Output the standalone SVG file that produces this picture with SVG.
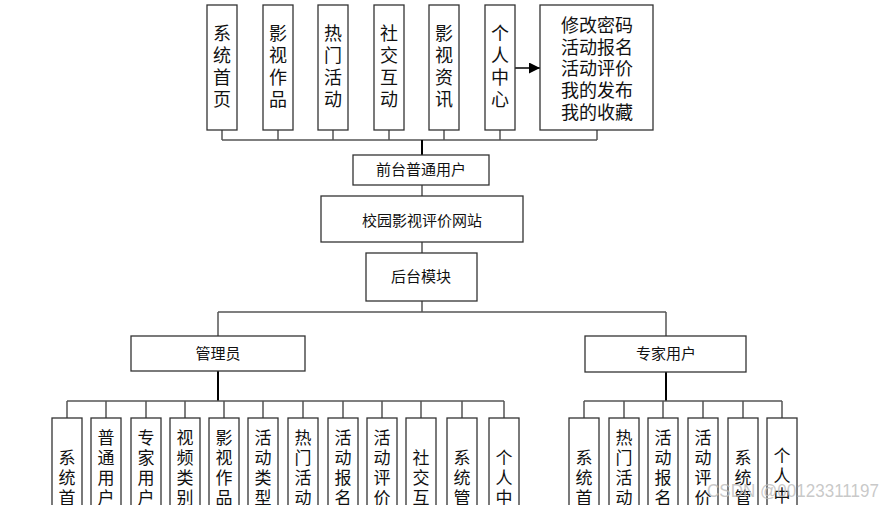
<svg xmlns="http://www.w3.org/2000/svg" width="884" height="505" viewBox="0 0 884 505">
<style>
.box{fill:#fff;stroke:#333;stroke-width:1.3}
.t{font-family:"Noto Sans CJK SC","Liberation Sans",sans-serif;fill:#111;text-anchor:middle}
.tt{font-size:18px}
.tm{font-size:15px}
.tb{font-size:17px}
.ln{stroke:#555;stroke-width:1.5;fill:none}
.lk{stroke:#000;stroke-width:2;fill:none}
.wm{font-family:"Liberation Sans",Arial,sans-serif;font-size:18px;fill:#bbb;fill-opacity:0.8}
</style>
<defs>
<marker id="arr" viewBox="0 0 10 10" refX="10" refY="5" markerWidth="15" markerHeight="11" markerUnits="userSpaceOnUse" orient="auto">
<path d="M0,0 L10,5 L0,10 Z" fill="#000"/>
</marker>
</defs>
<g id="connectors">
<path class="ln" d="M222,130V140M278,130V140M333,130V140M389,130V140M444,130V140M500,130V140M597,130V140M222,140H597"/>
<path class="lk" d="M422,140V155"/>
<path class="ln" d="M422,185V196M422,242V253M422,301V312M218,312H666M218,312V336M666,312V336"/>
<path class="lk" d="M218,371V401M666,372V401"/>
<path class="ln" d="M67,401H504M67,401V418M106,401V418M146,401V418M185,401V418M224,401V418M263,401V418M303,401V418M343,401V418M382,401V418M421,401V418M462,401V418M504,401V418"/>
<path class="ln" d="M584,401H782M584,401V418M624,401V418M663,401V418M703,401V418M743,401V418M782,401V418"/>
<line x1="515" y1="68" x2="540" y2="68" stroke="#000" stroke-width="1.5" marker-end="url(#arr)"/>
</g>
<g id="n_top1"><rect class="box" x="207" y="5" width="30" height="125"/><text class="t tt" x="222"><tspan x="222" y="40">系</tspan><tspan x="222" y="62">统</tspan><tspan x="222" y="84">首</tspan><tspan x="222" y="106">页</tspan></text></g>
<g id="n_top2"><rect class="box" x="263" y="5" width="30" height="125"/><text class="t tt" x="278"><tspan x="278" y="40">影</tspan><tspan x="278" y="62">视</tspan><tspan x="278" y="84">作</tspan><tspan x="278" y="106">品</tspan></text></g>
<g id="n_top3"><rect class="box" x="318" y="5" width="30" height="125"/><text class="t tt" x="333"><tspan x="333" y="40">热</tspan><tspan x="333" y="62">门</tspan><tspan x="333" y="84">活</tspan><tspan x="333" y="106">动</tspan></text></g>
<g id="n_top4"><rect class="box" x="374" y="5" width="30" height="125"/><text class="t tt" x="389"><tspan x="389" y="40">社</tspan><tspan x="389" y="62">交</tspan><tspan x="389" y="84">互</tspan><tspan x="389" y="106">动</tspan></text></g>
<g id="n_top5"><rect class="box" x="429" y="5" width="30" height="125"/><text class="t tt" x="444"><tspan x="444" y="40">影</tspan><tspan x="444" y="62">视</tspan><tspan x="444" y="84">资</tspan><tspan x="444" y="106">讯</tspan></text></g>
<g id="n_top6"><rect class="box" x="485" y="5" width="30" height="125"/><text class="t tt" x="500"><tspan x="500" y="40">个</tspan><tspan x="500" y="62">人</tspan><tspan x="500" y="84">中</tspan><tspan x="500" y="106">心</tspan></text></g>
<g id="n_personal"><rect class="box" x="540" y="5" width="113" height="125"/><text class="t tt" x="597"><tspan x="597" y="32">修改密码</tspan><tspan x="597" y="54">活动报名</tspan><tspan x="597" y="75">活动评价</tspan><tspan x="597" y="97">我的发布</tspan><tspan x="597" y="119">我的收藏</tspan></text></g>
<g id="n_front"><rect class="box" x="353" y="155" width="136" height="30"/><text class="t tm" x="421" y="175">前台普通用户</text></g>
<g id="n_site"><rect class="box" x="321" y="196" width="202" height="46"/><text class="t tm" x="422" y="226">校园影视评价网站</text></g>
<g id="n_back"><rect class="box" x="366" y="253" width="111" height="48"/><text class="t tm" x="421" y="282">后台模块</text></g>
<g id="n_admin"><rect class="box" x="131" y="336" width="174" height="35"/><text class="t tm" x="218" y="359">管理员</text></g>
<g id="n_expert"><rect class="box" x="585" y="336" width="161" height="36"/><text class="t tm" x="666" y="359">专家用户</text></g>
<g id="a1"><rect class="box" x="52" y="418" width="30" height="120"/><text class="t tb"><tspan x="67" y="463.5">系</tspan><tspan x="67" y="483.5">统</tspan><tspan x="67" y="503.5">首</tspan></text></g>
<g id="a2"><rect class="box" x="91" y="418" width="30" height="120"/><text class="t tb"><tspan x="106" y="443.5">普</tspan><tspan x="106" y="463.5">通</tspan><tspan x="106" y="483.5">用</tspan><tspan x="106" y="503.5">户</tspan></text></g>
<g id="a3"><rect class="box" x="131" y="418" width="30" height="120"/><text class="t tb"><tspan x="146" y="443.5">专</tspan><tspan x="146" y="463.5">家</tspan><tspan x="146" y="483.5">用</tspan><tspan x="146" y="503.5">户</tspan></text></g>
<g id="a4"><rect class="box" x="170" y="418" width="30" height="120"/><text class="t tb"><tspan x="185" y="443.5">视</tspan><tspan x="185" y="463.5">频</tspan><tspan x="185" y="483.5">类</tspan><tspan x="185" y="503.5">别</tspan></text></g>
<g id="a5"><rect class="box" x="209" y="418" width="30" height="120"/><text class="t tb"><tspan x="224" y="443.5">影</tspan><tspan x="224" y="463.5">视</tspan><tspan x="224" y="483.5">作</tspan><tspan x="224" y="503.5">品</tspan></text></g>
<g id="a6"><rect class="box" x="248" y="418" width="30" height="120"/><text class="t tb"><tspan x="263" y="443.5">活</tspan><tspan x="263" y="463.5">动</tspan><tspan x="263" y="483.5">类</tspan><tspan x="263" y="503.5">型</tspan></text></g>
<g id="a7"><rect class="box" x="288" y="418" width="30" height="120"/><text class="t tb"><tspan x="303" y="443.5">热</tspan><tspan x="303" y="463.5">门</tspan><tspan x="303" y="483.5">活</tspan><tspan x="303" y="503.5">动</tspan></text></g>
<g id="a8"><rect class="box" x="328" y="418" width="30" height="120"/><text class="t tb"><tspan x="343" y="443.5">活</tspan><tspan x="343" y="463.5">动</tspan><tspan x="343" y="483.5">报</tspan><tspan x="343" y="503.5">名</tspan></text></g>
<g id="a9"><rect class="box" x="367" y="418" width="30" height="120"/><text class="t tb"><tspan x="382" y="443.5">活</tspan><tspan x="382" y="463.5">动</tspan><tspan x="382" y="483.5">评</tspan><tspan x="382" y="503.5">价</tspan></text></g>
<g id="a10"><rect class="box" x="406" y="418" width="30" height="120"/><text class="t tb"><tspan x="421" y="463.5">社</tspan><tspan x="421" y="483.5">交</tspan><tspan x="421" y="503.5">互</tspan></text></g>
<g id="a11"><rect class="box" x="447" y="418" width="30" height="120"/><text class="t tb"><tspan x="462" y="463.5">系</tspan><tspan x="462" y="483.5">统</tspan><tspan x="462" y="503.5">管</tspan></text></g>
<g id="a12"><rect class="box" x="489" y="418" width="30" height="120"/><text class="t tb"><tspan x="504" y="463.5">个</tspan><tspan x="504" y="483.5">人</tspan><tspan x="504" y="503.5">中</tspan></text></g>
<g id="e1"><rect class="box" x="569" y="418" width="30" height="120"/><text class="t tb"><tspan x="584" y="463.5">系</tspan><tspan x="584" y="483.5">统</tspan><tspan x="584" y="503.5">首</tspan></text></g>
<g id="e2"><rect class="box" x="609" y="418" width="30" height="120"/><text class="t tb"><tspan x="624" y="443.5">热</tspan><tspan x="624" y="463.5">门</tspan><tspan x="624" y="483.5">活</tspan><tspan x="624" y="503.5">动</tspan></text></g>
<g id="e3"><rect class="box" x="648" y="418" width="30" height="120"/><text class="t tb"><tspan x="663" y="443.5">活</tspan><tspan x="663" y="463.5">动</tspan><tspan x="663" y="483.5">报</tspan><tspan x="663" y="503.5">名</tspan></text></g>
<g id="e4"><rect class="box" x="688" y="418" width="30" height="120"/><text class="t tb"><tspan x="703" y="443.5">活</tspan><tspan x="703" y="463.5">动</tspan><tspan x="703" y="483.5">评</tspan><tspan x="703" y="503.5">价</tspan></text></g>
<g id="e5"><rect class="box" x="728" y="418" width="30" height="120"/><text class="t tb"><tspan x="743" y="463.5">系</tspan><tspan x="743" y="483.5">统</tspan><tspan x="743" y="503.5">管</tspan></text></g>
<g id="e6"><rect class="box" x="767" y="418" width="30" height="120"/><text class="t tb"><tspan x="782" y="461.5">个</tspan><tspan x="782" y="481.5">人</tspan><tspan x="782" y="501.5">中</tspan></text></g>
<text class="wm" x="707" y="497" textLength="172" lengthAdjust="spacingAndGlyphs">CSDN @00123311197</text>
</svg>
